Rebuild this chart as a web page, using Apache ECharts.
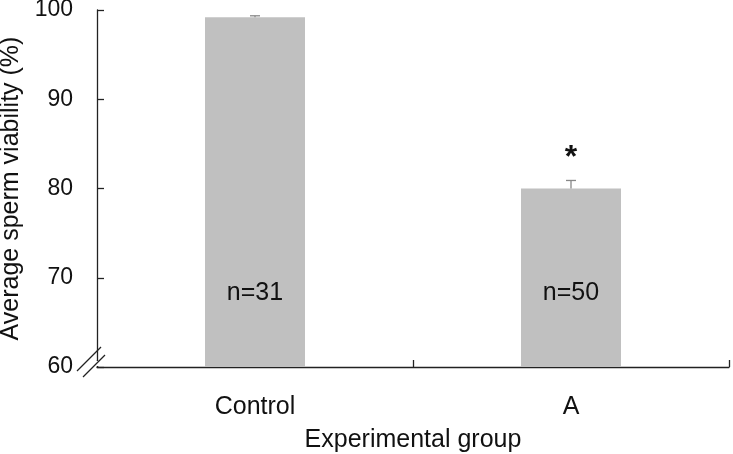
<!DOCTYPE html>
<html><head><meta charset="utf-8">
<script src="https://cdn.jsdelivr.net/npm/echarts@6/dist/echarts.min.js"></script>
<style>html,body{margin:0;padding:0;background:#fff}#c{width:733px;height:454px}</style>
</head><body><div id="c"></div>
<script>
const categories = ['Control', 'A'];
const means = [99.2, 80.0];
const errors = [0.15, 0.9];
const sampleLabels = ['n=31', 'n=50'];
const significance = ['', '*'];
const yTicks = [60, 70, 80, 90, 100];

const chart = echarts.init(document.getElementById('c'));
const FONT = 'Liberation Sans, Arial, sans-serif';
const TXT = '#111';
const AX = '#222';

chart.setOption({
  animation: false,
  grid: { left: 97, right: 4, top: 10, bottom: 87, containLabel: false, outerBoundsMode: 'none' },
  xAxis: {
    type: 'category', data: categories,
    axisLine: { lineStyle: { color: AX, width: 1.3 } },
    axisTick: { show: true, inside: true, length: 7, alignWithLabel: false, interval: 0, lineStyle: { color: AX, width: 1.3 } },
    axisLabel: { color: TXT, fontSize: 25, fontFamily: FONT, margin: 28 },
    name: 'Experimental group', nameLocation: 'middle', nameGap: 61,
    nameTextStyle: { color: TXT, fontSize: 25, fontFamily: FONT, verticalAlign: 'top' }
  },
  yAxis: {
    type: 'value', min: yTicks[0], max: yTicks[yTicks.length - 1], interval: 10,
    splitLine: { show: false },
    axisLine: { show: true, lineStyle: { color: AX, width: 1.3 } },
    axisTick: { show: true, inside: true, length: 7, lineStyle: { color: AX, width: 1.3 } },
    axisLabel: { color: TXT, fontSize: 23, fontFamily: FONT, margin: 24 },
    name: 'Average sperm viability (%)', nameLocation: 'middle', nameGap: 68, nameRotate: 90,
    nameTextStyle: { color: TXT, fontSize: 25, fontFamily: FONT }
  },
  series: [
    {
      type: 'bar', data: means, barWidth: 100,
      itemStyle: { color: '#c0c0c0' },
      label: {
        show: true, position: 'insideBottom', distance: 61,
        formatter: p => sampleLabels[p.dataIndex],
        color: TXT, fontSize: 25, fontFamily: FONT
      }
    },
    {
      type: 'custom',
      data: means.map((m, i) => [i, m, errors[i]]),
      z: 5,
      renderItem: function (params, api) {
        const i = api.value(0);
        const base = api.coord([i, api.value(1)]);
        const top = api.coord([i, api.value(1) + api.value(2)]);
        const hw = 5;
        const children = [
          { type: 'line', shape: { x1: base[0], y1: base[1], x2: top[0], y2: top[1] }, style: { stroke: '#888', lineWidth: 1.3 } },
          { type: 'line', shape: { x1: top[0] - hw, y1: top[1], x2: top[0] + hw, y2: top[1] }, style: { stroke: '#888', lineWidth: 1.3 } }
        ];
        const sig = significance[params.dataIndex];
        if (sig) {
          children.push({ type: 'text', style: { text: sig, x: top[0], y: top[1] - 6, align: 'center', verticalAlign: 'bottom', fontSize: 32, fontWeight: 'bold', fontFamily: FONT, fill: TXT } });
        }
        return { type: 'group', children: children };
      }
    }
  ]
});

// axis-break decoration at the bottom of the y axis
const origin = chart.convertToPixel({ gridIndex: 0 }, [0, yTicks[0]]);
const ox = 97, oy = origin[1];
chart.setOption({
  graphic: [
    { type: 'rect', shape: { x: ox - 2, y: oy - 6, width: 4, height: 5 }, style: { fill: '#fff' }, z: 100 },
    { type: 'line', shape: { x1: ox - 20, y1: oy + 4, x2: ox + 4, y2: oy - 20 }, style: { stroke: AX, lineWidth: 1.3 }, z: 101 },
    { type: 'line', shape: { x1: ox - 14, y1: oy + 10, x2: ox + 8, y2: oy - 12 }, style: { stroke: AX, lineWidth: 1.3 }, z: 101 }
  ]
});
</script></body></html>
